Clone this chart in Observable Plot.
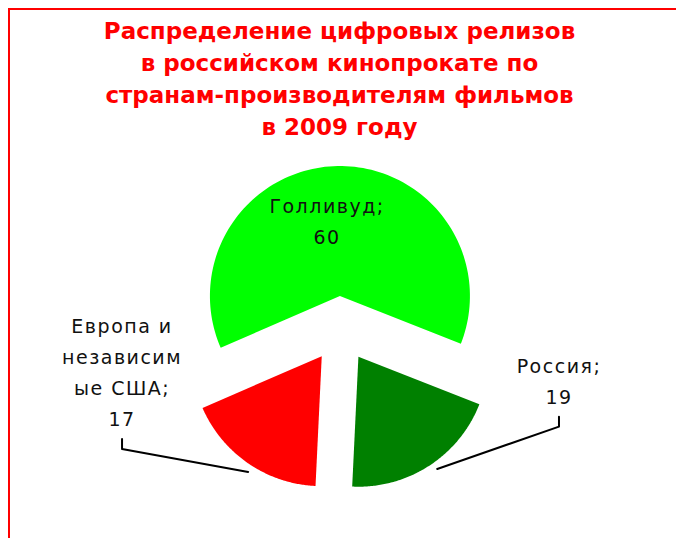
<!DOCTYPE html>
<html><head><meta charset="utf-8">
<script src="https://cdn.jsdelivr.net/npm/d3@7"></script>
<script src="https://cdn.jsdelivr.net/npm/@observablehq/plot@0.6"></script>
<style>
body{margin:0;background:#fff}
#wrap{position:relative;width:676px;height:538px;overflow:hidden;background:#fff}
#wrap svg{position:absolute;left:0;top:0}
#frame{position:absolute;left:8px;top:8px;width:720px;height:620px;border-left:2px solid #ff0000;border-top:2px solid #ff0000;box-sizing:border-box;pointer-events:none}
.lbl text{letter-spacing:1.5px}
</style></head><body>
<div id="wrap"><div id="frame"></div></div>
<script>
// ---- data ----
const categories = ["Голливуд", "Россия", "Европа и независимые США"];
const values = [60, 19, 17];
const colors = ["#00ff00", "#008000", "#ff0000"];
const labelLines = [["Голливуд;"], ["Россия;"], ["Европа и", "независим", "ые США;"]];
const titleLines = ["Распределение цифровых релизов", "в российском кинопрокате по", "странам-производителям фильмов", "в 2009 году"];

// ---- layout (style) ----
const W = 676, H = 538;
const cx = 340, cy = 328.5, R = 130, explode = 33;
const startDeg = -113.5;
const labelPlace = [{angle: -6.6, r: 117}, {angle: 101.3, r: 222.8}, {angle: 268.95, r: 218.5}];
const outside = [false, true, true];
const leaderShift = -2.2, leaderR = 1.055;
const lineStep = 31;
const titleX = 339, titleY0 = 38, titleStep = 32;

const rad = d => d * Math.PI / 180;
const arcs = d3.pie().sort(null).value(d => d)
  .startAngle(rad(startDeg)).endAngle(rad(startDeg) + 2 * Math.PI)(values);

const slices = arcs.map((a, i) => {
  const mid = (a.startAngle + a.endAngle) / 2;
  return {name: categories[i], color: colors[i], a0: a.startAngle, a1: a.endAngle, mid,
          ox: cx + explode * Math.sin(mid), oy: cy - explode * Math.cos(mid)};
});

const polys = slices.map(s => {
  const pts = [{x: s.ox, y: s.oy}];
  const N = 120;
  for (let k = 0; k <= N; k++) {
    const t = s.a0 + (s.a1 - s.a0) * k / N;
    pts.push({x: s.ox + R * Math.sin(t), y: s.oy - R * Math.cos(t)});
  }
  pts.push({x: s.ox, y: s.oy});
  return pts;
});

const labelRows = [];
const leaderRows = [];
slices.forEach((s, i) => {
  const p = labelPlace[i];
  const lx = cx + p.r * Math.sin(rad(p.angle));
  const ly = cy - p.r * Math.cos(rad(p.angle));
  const lines = [...labelLines[i], String(values[i])];
  lines.forEach((t, j) => labelRows.push({x: lx, y: ly + j * lineStep, text: t}));
  if (outside[i]) {
    const last = ly + (lines.length - 1) * lineStep;
    const a = s.mid + rad(leaderShift);
    leaderRows.push({name: s.name, x: s.ox + R * leaderR * Math.sin(a), y: s.oy - R * leaderR * Math.cos(a)});
    leaderRows.push({name: s.name, x: lx, y: last + 23});
    leaderRows.push({name: s.name, x: lx, y: last + 13});
  }
});

const titleRows = titleLines.map((t, j) => ({x: titleX, y: titleY0 + j * titleStep, text: t}));

const chart = Plot.plot({
  width: W, height: H, margin: 0,
  x: {domain: [0, W], range: [0, W], axis: null},
  y: {domain: [0, H], range: [0, H], axis: null},
  style: {background: "transparent", overflow: "visible"},
  marks: [
    ...polys.map((pts, i) => Plot.line(pts, {x: "x", y: "y", fill: colors[i], stroke: "none", curve: "linear"})),
    Plot.line(leaderRows, {x: "x", y: "y", z: "name", stroke: "#000", strokeWidth: 2}),
    Plot.text(labelRows, {x: "x", y: "y", text: "text", lineAnchor: "bottom", textAnchor: "middle",
      fontSize: 19, fontFamily: "DejaVu Sans", fill: "#111", className: "lbl"}),
    Plot.text(titleRows, {x: "x", y: "y", text: "text", lineAnchor: "bottom", textAnchor: "middle",
      fontSize: 23, fontWeight: "bold", fontFamily: "DejaVu Sans", fill: "#ff0000"})
  ]
});
document.getElementById("wrap").prepend(chart);
</script>
</body></html>
